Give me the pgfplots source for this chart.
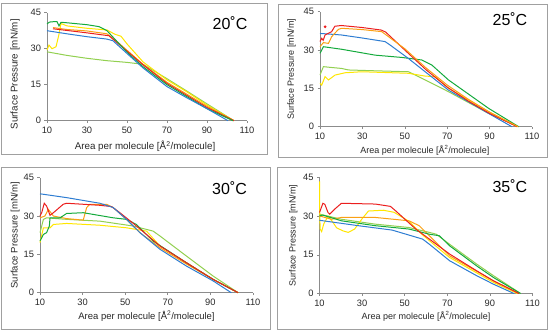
\documentclass[border=0pt]{standalone}
\usepackage{pgfplots}
\pgfplotsset{compat=1.18}
\usepackage{fontspec}
\setmainfont{Liberation Sans}
\definecolor{cblue}{RGB}{46,125,210}
\definecolor{cred}{RGB}{235,30,30}
\definecolor{corange}{RGB}{250,160,20}
\definecolor{cyellow}{RGB}{255,230,0}
\definecolor{cgreen}{RGB}{20,170,60}
\definecolor{clgreen}{RGB}{146,208,80}
\definecolor{cframe}{RGB}{160,160,160}
\definecolor{caxis}{RGB}{140,140,140}
\definecolor{ctext}{RGB}{40,40,40}
\pgfplotsset{
  panel/.style={
    scale only axis, xmin=10, xmax=110, ymin=0, ymax=45,
    axis lines*=left, axis line style={caxis, line width=0.8pt},
    xtick={10,30,...,110}, ytick={0,15,30,45},
    tick style={caxis, line width=0.6pt}, major tick length=2.5pt, tick align=outside,
    tick label style={font=\fontsize{9.3}{11}\selectfont, text=ctext},
    label style={font=\fontsize{9}{11}\selectfont, text=ctext},
    /pgf/number format/assume math mode=true,
    xlabel={Area per molecule [Å\textsuperscript{2}/molecule]},
    ylabel={Surface Pressure [mN/m]},
    every axis plot/.append style={line width=1pt, no markers},
    clip=false,
  }
}
\begin{document}
\begin{tikzpicture}
\path[use as bounding box] (0pt,0pt) rectangle (550pt,332pt);
% frames
\draw[cframe, line width=0.9pt] (1pt,178pt) rectangle (267pt,328.7pt);
\draw[cframe, line width=0.9pt] (278.3pt,174.7pt) rectangle (547.7pt,328pt);
\draw[cframe, line width=0.9pt] (1.7pt,2.7pt) rectangle (270.7pt,164.3pt);
\draw[cframe, line width=0.9pt] (277.7pt,2.7pt) rectangle (547.7pt,164.3pt);

% ---------- 20 C ----------
\begin{axis}[panel, anchor=south west, at={(47pt,211.3pt)}, width=200pt, height=108pt,
  label style={font=\fontsize{9.8}{11}\selectfont},
  ylabel style={at={(axis description cs:-0.16,0.43)}, anchor=center},
  xlabel style={at={(axis description cs:0.49,-0.24)}, anchor=center}]
\addplot[clgreen] coordinates {(10,28.7)(20,27.2)(30,26)(40,25)(50,24.3)(58,23.5)(70,17.5)(80,12.3)(90,7)(103.5,0)};
\addplot[cyellow] coordinates {(10,29.4)(11,31.5)(12.5,30)(14.5,30.8)(16,36)(17,40.5)(20,39.5)(30,38.5)(40,37.8)(44,36)(47,35.2)(50,32)(58,24.5)(70,17)(80,12)(90,6.5)(103.5,0)};
\addplot[corange] coordinates {(13,38.8)(20,38)(30,37.4)(40,36.2)(45,33)(58,23.5)(70,16)(80,11)(90,6)(103.5,0)};
\addplot[cred] coordinates {(13,38.3)(20,37.6)(30,36.6)(41,35.4)(50,29)(58,23.3)(70,15.5)(80,10.5)(90,5.5)(103.5,0)};
\addplot[cgreen] coordinates {(10,40.3)(11,41)(12,41.2)(15,41.3)(16,39.5)(17,41)(20,40.8)(30,40)(36,39.2)(40,37.5)(45,33)(50,28.5)(58,22.5)(70,15)(80,10)(90,5)(103,0)};
\addplot[cblue] coordinates {(10,37.5)(20,36.2)(30,35)(40,34)(43,33.3)(50,28)(58,22)(70,14.2)(80,9.5)(90,5)(100.5,0)};
\node[font=\fontsize{16}{18}\selectfont, text=black] at (rel axis cs:0.915,0.907) {20˚C};
\end{axis}

% ---------- 25 C ----------
\begin{axis}[panel, anchor=south west, at={(320pt,205.3pt)}, width=212pt, height=115pt,
  ylabel style={at={(axis description cs:-0.134,0.5)}, anchor=center},
  xlabel style={at={(axis description cs:0.495,-0.203)}, anchor=center}]
\addplot[clgreen] coordinates {(10,20.2)(11.6,23.5)(15,23.2)(20.2,22.8)(23.4,22.2)(35,21.9)(51.7,21.5)(56.5,19.6)(70.6,13.7)(89.5,5.2)(103.7,0)};
\addplot[cyellow] coordinates {(10,17)(10.8,16.3)(12.4,19.6)(14,18.3)(17.1,20.2)(21.8,21.1)(29.7,21.5)(51.7,20.9)(59.6,19.8)(64.3,19.6)(70.6,15)(89.5,5.9)(103,0)};
\addplot[cgreen] coordinates {(10,28.7)(11.6,31.3)(20.2,30.3)(36,28)(48.6,27.1)(58,26.1)(62.8,24.1)(70.6,18.3)(89.5,7.2)(103.7,0)};
\addplot[cblue] coordinates {(10,36.5)(20,35.9)(30,34.7)(40.7,33.3)(43,32)(51.7,26.7)(59.6,21.5)(70.6,14.3)(89.5,5.2)(100.5,0)};
\addplot[cred] coordinates {(10,33.3)(10.8,34.6)(11.5,33.8)(12.4,35.9)(13.9,36.5)(15.5,37.2)(17,39.3)(20,39.6)(30,38.8)(39,37.8)(41,37)(50,30)(60,22.3)(70,15.5)(80,10)(90,5.2)(103,0)};
\addplot[cred, only marks, mark=*, mark size=0.8pt] coordinates {(12.4,39.1)};
\addplot[corange] coordinates {(10,31.3)(11.6,32.9)(14,32.6)(15.5,35.2)(18.7,38.1)(20.2,38.5)(30,38)(39.1,37.2)(50,30.5)(60,23)(70,16.3)(80,10.7)(90,5.7)(103.5,0)};
\node[font=\fontsize{16}{18}\selectfont, text=black] at (rel axis cs:0.896,0.935) {25˚C};
\end{axis}

% ---------- 30 C ----------
\begin{axis}[panel, anchor=south west, at={(40pt,39.3pt)}, width=213pt, height=115pt,
  label style={font=\fontsize{9.5}{11}\selectfont},
  ylabel style={at={(axis description cs:-0.117,0.5)}, anchor=center},
  xlabel style={at={(axis description cs:0.5,-0.203)}, anchor=center}]
\addplot[clgreen] coordinates {(10,23.5)(11.6,28.7)(13.1,29.3)(22.5,28.7)(38.1,28)(53.7,26.1)(63.1,24.1)(66.3,22.2)(78.8,14.3)(91.3,6.5)(103,0)};
\addplot[cyellow] coordinates {(10,19.6)(11.6,25.4)(14.7,25.4)(16.3,26.7)(22.5,27.1)(38.1,26.4)(50.6,25.4)(60,24.1)(66.3,18.3)(78.8,11.7)(91.3,5.2)(103,0)};
\addplot[corange] coordinates {(10,29.3)(12.3,30)(13.9,32.6)(16.3,30)(22.5,29)(30.3,28.4)(31.9,33.3)(33.4,34.6)(41.2,34.6)(44.4,33.3)(50.6,28.7)(56.9,23.5)(66.3,17.6)(78.8,11.2)(91.3,5.2)(103,0)};
\addplot[cgreen] coordinates {(10,20.2)(11.6,22.8)(13.1,23.5)(14.4,26.1)(14.7,29.3)(19.4,29.3)(22.5,31)(30.3,31.3)(44.4,29.3)(50.6,28.7)(55.3,26.7)(63.1,20.2)(78.8,11.7)(91.3,5.2)(103,0)};
\addplot[cred] coordinates {(10,30)(10.8,31.3)(12,35)(13.1,33.9)(14.7,30.3)(16.3,31.3)(20.9,34.6)(22.5,35)(38.1,34.2)(43.6,33.7)(47.5,31.3)(55.3,26.1)(66.3,18.3)(78.8,11.7)(91.3,5.2)(103,0)};
\addplot[cblue] coordinates {(10,38.7)(22.5,37.2)(38.1,35)(44.4,33.3)(50.6,28.7)(56.9,23.5)(66.3,17)(78.8,10.4)(91.3,4.6)(99.8,0)};
\node[font=\fontsize{16}{18}\selectfont, text=black] at (rel axis cs:0.89,0.91) {30˚C};
\end{axis}

% ---------- 35 C ----------
\begin{axis}[panel, anchor=south west, at={(319.5pt,38.5pt)}, width=213pt, height=116pt,
  ylabel style={at={(axis description cs:-0.123,0.5)}, anchor=center},
  xlabel style={at={(axis description cs:0.5,-0.194)}, anchor=center}]
\addplot[clgreen] coordinates {(10,30.8)(20.3,28.8)(36.2,26.9)(52,25.6)(61.6,23.7)(64.8,23)(71.1,19.1)(83.8,11.4)(91.7,6.9)(104.4,0)};
\addplot[cyellow] coordinates {(10,43.5)(10,35)(10.3,25)(11,24)(12,27)(14,30)(16,28)(18,25.5)(21,24.3)(23.5,23.7)(26.5,25)(30,29)(33,32)(40,32.3)(45,31.5)(52,28)(58,23)(71,14)(91.7,4.3)(102.9,0)};
\addplot[corange] coordinates {(10,30.1)(15.6,28.8)(20.3,29.5)(36.2,29.5)(52,28.2)(56.8,26.3)(71.1,14.6)(91.7,4.9)(103.7,0)};
\addplot[cgreen] coordinates {(10,30.1)(11.6,30.4)(20.3,28.2)(36.2,26.3)(52,25)(61.6,23)(66.3,22.4)(71.1,18.5)(83.8,10.7)(91.7,6.2)(104.4,0)};
\addplot[cred] coordinates {(10,31.4)(11.6,35)(12.5,34.6)(14,31.4)(14.8,30.8)(17.1,32.7)(20.3,35)(36.2,34.7)(43.3,33.8)(45.7,32.1)(55.2,25)(71.1,15.3)(83.8,8.8)(91.7,4.9)(103.7,0)};
\addplot[cblue] coordinates {(10,28.4)(28.3,26.3)(44.1,24.6)(58.4,21.1)(61.6,19.1)(71.1,12.7)(83.8,6.9)(91.7,3.6)(101.3,0)};
\node[font=\fontsize{16}{18}\selectfont, text=black] at (rel axis cs:0.894,0.925) {35˚C};
\end{axis}
\end{tikzpicture}
\end{document}
